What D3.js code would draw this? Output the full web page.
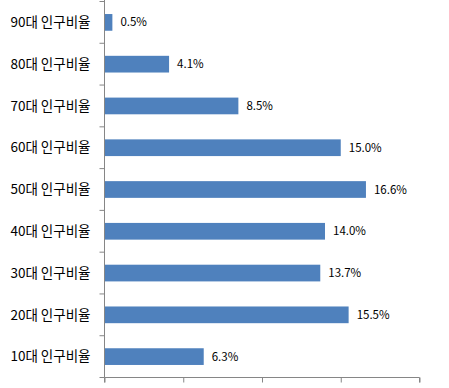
<!DOCTYPE html>
<html><head><meta charset="utf-8">
<script src="https://cdn.jsdelivr.net/npm/d3@7"></script>
<style>body{margin:0;background:#fff}</style>
</head><body>
<svg id="c" width="449" height="388"></svg>
<script>
const categories = ["90대 인구비율","80대 인구비율","70대 인구비율","60대 인구비율","50대 인구비율","40대 인구비율","30대 인구비율","20대 인구비율","10대 인구비율"];
const values = [0.5, 4.1, 8.5, 15.0, 16.6, 14.0, 13.7, 15.5, 6.3];
const xTicks = [0, 5, 10, 15, 20];

const svg = d3.select("#c");
const x = d3.scaleLinear().domain([0, 20]).range([104.5, 419.5]);
const y = d3.scaleBand().domain(categories).range([1.5, 377.5]).paddingInner(0.6).paddingOuter(0.3);
const yb = d3.scaleBand().domain(categories).range([1.5, 377.5]);
const axisColor = "#868686";

svg.selectAll("rect.bar").data(values).enter().append("rect")
  .attr("class","bar")
  .attr("x", x(0))
  .attr("y", (d,i)=>y(categories[i]))
  .attr("width", d=>x(d)-x(0))
  .attr("height", y.bandwidth())
  .attr("fill", "#4F81BD");

svg.selectAll("text.val").data(values).enter().append("text")
  .attr("class","val")
  .attr("x", d=>x(d)+8)
  .attr("y", (d,i)=>y(categories[i])+y.bandwidth()/2)
  .attr("dy","0.35em")
  .attr("font-family","'Noto Sans CJK KR', 'DejaVu Sans', sans-serif")
  .attr("font-size", 11.5)
  .attr("fill","#000")
  .text(d=>d.toFixed(1)+"%");

const gy = svg.append("g").attr("transform",`translate(${x(0)},0)`);
gy.append("line").attr("x1",0).attr("x2",0).attr("y1",0).attr("y2",377.5).attr("stroke",axisColor);
const bounds = categories.map(c=>yb(c)).concat([377.5]);
gy.selectAll("line.t").data(bounds).enter().append("line")
  .attr("x1",-5).attr("x2",0).attr("y1",d=>d).attr("y2",d=>d).attr("stroke",axisColor);
gy.selectAll("text").data(categories).enter().append("text")
  .attr("x",-14).attr("y",d=>yb(d)+yb.bandwidth()/2).attr("dy","0.35em")
  .attr("text-anchor","end")
  .attr("font-family","'Noto Sans CJK KR', sans-serif")
  .attr("font-size",13.5).attr("fill","#000")
  .text(d=>d);

const gx = svg.append("g").attr("transform","translate(0,377.5)");
gx.call(d3.axisBottom(x).tickValues(xTicks).tickSize(5).tickFormat(""));
gx.select(".domain").attr("stroke",axisColor).attr("d",`M${x(0)},5V0H${x(20)}V5`);
gx.selectAll(".tick line").attr("stroke",axisColor);
</script>
</body></html>
